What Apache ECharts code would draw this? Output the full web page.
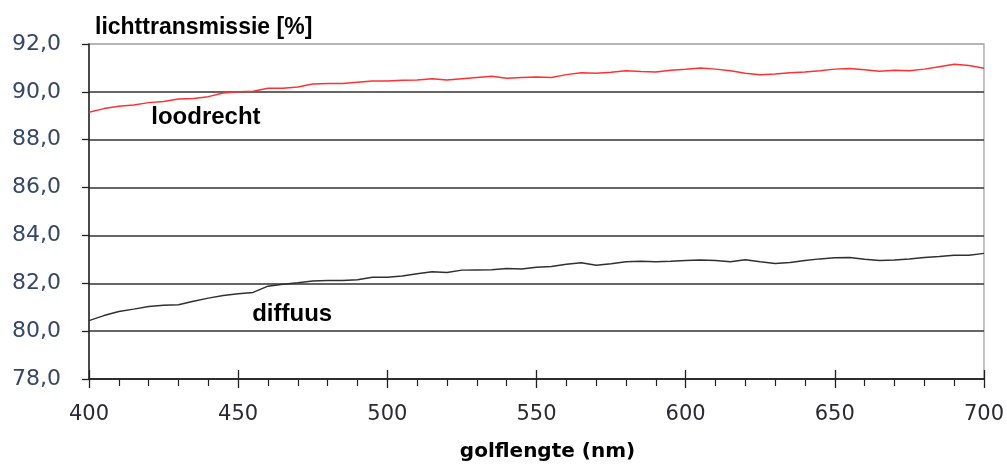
<!DOCTYPE html>
<html>
<head>
<meta charset="utf-8">
<script src="https://cdn.jsdelivr.net/npm/echarts@6/dist/echarts.min.js"></script>
<style>
  html, body { margin: 0; padding: 0; background: #fff; }
  #chart { width: 1007px; height: 467px; }
</style>
</head>
<body>
<div id="chart"></div>
<script>
// golflengte in nm, stap van 5
const wavelengths = [
  400, 405, 410, 415, 420, 425, 430, 435, 440, 445,
  450, 455, 460, 465, 470, 475, 480, 485, 490, 495,
  500, 505, 510, 515, 520, 525, 530, 535, 540, 545,
  550, 555, 560, 565, 570, 575, 580, 585, 590, 595,
  600, 605, 610, 615, 620, 625, 630, 635, 640, 645,
  650, 655, 660, 665, 670, 675, 680, 685, 690, 695, 700
];

// loodrecht (rood)
const loodrecht = [
  89.15, 89.30, 89.40, 89.45, 89.55, 89.60, 89.70, 89.72, 89.80, 89.95,
  90.00, 90.03, 90.15, 90.15, 90.20, 90.33, 90.35, 90.35, 90.40, 90.45,
  90.45, 90.48, 90.50, 90.55, 90.50, 90.55, 90.60, 90.65, 90.57, 90.60,
  90.62, 90.60, 90.72, 90.80, 90.78, 90.82, 90.88, 90.85, 90.83, 90.90,
  90.94, 91.00, 90.95, 90.88, 90.78, 90.72, 90.75, 90.80, 90.83, 90.88,
  90.95, 90.98, 90.92, 90.86, 90.90, 90.88, 90.95, 91.05, 91.15, 91.10, 90.99
];

// diffuus (zwart)
const diffuus = [
  80.44, 80.65, 80.82, 80.92, 81.03, 81.08, 81.10, 81.25, 81.38, 81.49,
  81.56, 81.62, 81.88, 81.96, 82.02, 82.10, 82.12, 82.12, 82.15, 82.25,
  82.25, 82.30, 82.40, 82.48, 82.45, 82.55, 82.56, 82.57, 82.62, 82.60,
  82.67, 82.70, 82.80, 82.86, 82.75, 82.82, 82.90, 82.92, 82.90, 82.92,
  82.95, 82.97, 82.95, 82.90, 82.98, 82.90, 82.83, 82.87, 82.95, 83.02,
  83.07, 83.08, 83.00, 82.95, 82.97, 83.01, 83.08, 83.12, 83.17, 83.17, 83.25
];

const yTicks = [78, 80, 82, 84, 86, 88, 90, 92];
const xTicks = [400, 450, 500, 550, 600, 650, 700];

// plek van de tekstlabels in de grafiek (data-coördinaten)
const loodrechtLabelAt = [439.2, 88.93];
const diffuusLabelAt = [468.1, 80.69];

function pairs(xs, ys) {
  return xs.map((x, i) => [x, ys[i]]);
}

const chart = echarts.init(document.getElementById('chart'));

const textLabel = (name, at) => ({
  symbol: 'circle',
  symbolSize: 1,
  silent: true,
  itemStyle: { color: 'rgba(0,0,0,0)' },
  label: {
    show: true,
    position: 'inside',
    formatter: name,
    color: '#000',
    fontFamily: 'Liberation Sans, Arial, sans-serif',
    fontWeight: 'bold',
    fontSize: 24
  },
  data: [{ coord: at }]
});

chart.setOption({
  animation: false,
  backgroundColor: '#fff',
  title: {
    text: 'lichttransmissie [%]',
    left: 90,
    top: 11,
    textStyle: {
      fontFamily: 'Liberation Sans, Arial, sans-serif',
      fontWeight: 'bold',
      fontSize: 23,
      color: '#000'
    }
  },
  grid: {
    left: 89,
    right: 22,
    top: 44,
    bottom: 85,
    show: true,
    borderColor: '#b0b0b0',
    borderWidth: 1.5
  },
  xAxis: [{
    type: 'value',
    min: xTicks[0],
    max: xTicks[xTicks.length - 1],
    interval: 50,
    name: 'golflengte (nm)',
    nameLocation: 'middle',
    nameGap: 63,
    nameTextStyle: {
      fontFamily: 'DejaVu Sans, sans-serif',
      fontWeight: 'bold',
      fontSize: 20,
      color: '#000',
      padding: [0, 0, 0, 22]
    },
    axisLine: { lineStyle: { color: '#222', width: 1.5 } },
    axisTick: { length: 9, lineStyle: { color: '#222', width: 1.3 } },
    minorTick: { show: true, splitNumber: 5, length: 7, lineStyle: { color: '#222', width: 1.2 } },
    axisLabel: {
      margin: 25,
      fontFamily: 'DejaVu Sans, sans-serif',
      fontSize: 21,
      color: '#2a2a35'
    },
    splitLine: { show: false }
  }, {
    // korte streepjes binnen de grafiek bij de hoofdmarkeringen
    type: 'value',
    position: 'bottom',
    min: xTicks[0],
    max: xTicks[xTicks.length - 1],
    interval: 50,
    axisLine: { show: false },
    axisTick: { inside: true, length: 9, lineStyle: { color: '#222', width: 1.3 } },
    axisLabel: { show: false },
    splitLine: { show: false }
  }],
  yAxis: {
    type: 'value',
    min: yTicks[0],
    max: yTicks[yTicks.length - 1],
    interval: 2,
    axisLine: { show: true, lineStyle: { color: '#222', width: 1.5 } },
    axisTick: { show: true, length: 7, lineStyle: { color: '#222', width: 1.3 } },
    axisLabel: {
      margin: 28,
      fontFamily: 'DejaVu Sans, sans-serif',
      fontSize: 22,
      color: '#34466a',
      formatter: v => v.toFixed(1).replace('.', ',')
    },
    splitLine: {
      show: true,
      lineStyle: {
        color: ['#333', '#333', '#333', '#333', '#333', '#333', '#333', '#b0b0b0'],
        width: 1.5
      }
    }
  },
  series: [{
    name: 'loodrecht',
    type: 'line',
    showSymbol: false,
    smooth: false,
    lineStyle: { color: '#ff3030', width: 1.5 },
    data: pairs(wavelengths, loodrecht),
    markPoint: textLabel('loodrecht', loodrechtLabelAt),
    z: 3
  }, {
    name: 'diffuus',
    type: 'line',
    showSymbol: false,
    smooth: false,
    lineStyle: { color: '#303030', width: 1.5 },
    data: pairs(wavelengths, diffuus),
    markPoint: textLabel('diffuus', diffuusLabelAt),
    z: 3
  }]
});
</script>
</body>
</html>
